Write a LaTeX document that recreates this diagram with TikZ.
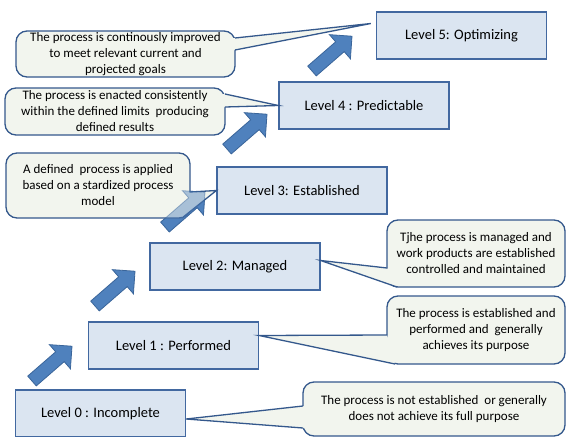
\documentclass[tikz,border=0pt]{standalone}
\usepackage{fontspec}
\setmainfont{Carlito}
\usetikzlibrary{calc}
\definecolor{levelfill}{RGB}{219,229,241}
\definecolor{levelline}{RGB}{66,104,160}
\definecolor{notefill}{RGB}{242,245,238}
\definecolor{noteline}{RGB}{52,88,140}
\definecolor{arrowfill}{RGB}{79,129,189}
\definecolor{arrowline}{RGB}{58,101,154}
\newcommand\calloutptr[4]{%
  \fill[notefill] #1 -- #2 -- #3 -- #4 -- cycle;
  \draw[pointer] #1 -- #2 -- #3;}

\begin{document}
\begin{tikzpicture}[x=1pt, y=-1pt,
    level/.style={draw=levelline, fill=levelfill, line width=1.3pt, minimum width=170pt, minimum height=47pt, inner sep=0pt, font=\fontsize{14.5}{16}\selectfont},
    note/.style={draw=noteline, fill=notefill, line width=1.3pt, rounded corners=11pt, align=center, inner sep=0pt, font=\fontsize{13}{16}\selectfont},
    pointer/.style={draw=noteline, line width=1.3pt, line join=miter},
    climb/.pic={\filldraw[draw=arrowline, fill=arrowfill, line width=0.8pt] (0,-6.5) -- (37,-6.5) -- (37,-16) -- (53,0) -- (37,16) -- (37,6.5) -- (0,6.5) -- cycle;}]
        \useasboundingbox (0,0) rectangle (566,437);

        \foreach \x/\y in {32/381, 95/306, 165/227, 227/149, 312/71} {
            \pic[rotate=41] at (\x,\y) {climb};
        }

        \node[level] (l0) at (100.5,413.5) {Level 0 : Incomplete};
        \node[level] (l1) at (173.5,345.5) {Level 1 : Performed};
        \node[level] (l2) at (235,266.5) {Level 2: Managed};
        \node[level] (l3) at (302,190.5) {Level 3: Established};
        \node[level] (l4) at (364,105.5) {Level 4 : Predictable};
        \node[level] (l5) at (461.5,35.5) {Level 5: Optimizing};

        \node[note, minimum width=219pt, minimum height=46pt] (n5) at (125.5,54) {The process is continously improved\\to meet relevant current and\\projected goals};
        \node[note, minimum width=220pt, minimum height=47pt] (n4) at (115,111.5) {The process is enacted consistently\\within the defined limits~ producing\\defined results};
        \node[note, minimum width=184pt, minimum height=65pt] (n3) at (98,185.5) {A defined~ process is applied\\based on a stardized process\\model};
        \node[note, minimum width=178pt, minimum height=67pt] (n2) at (476,253.5) {Tjhe process is managed and\\work products are established\\controlled and maintained};
        \node[note, minimum width=178pt, minimum height=68pt] (n1) at (476,330) {The process is established and\\performed and~ generally\\achieves its purpose};
        \node[note, minimum width=262pt, minimum height=54pt] (n0) at (434,409) {The process is not established~ or generally\\does not achieve its full purpose};

        \calloutptr{(235,38)}{([shift={(-5,-12)}]l5.west)}{(235,50)}{(230,50) -- (230,38)}
        \calloutptr{(225,94)}{(l4.west)}{(225,107)}{(220,107) -- (220,94)}
        \calloutptr{(190,192)}{(l3.west)}{(182,218)}{(184,200)}
        \calloutptr{(387,268)}{([shift={(0,-6)}]l2.east)}{(397,287)}{(392,276)}
        \calloutptr{(387,335)}{([shift={(0,-10)}]l1.east)}{(395,364)}{(391,348)}
        \calloutptr{(303,406)}{([shift={(0,5.5)}]l0.east)}{(303,428)}{(308,428) -- (308,406)}

        \pic[rotate=41, opacity=0.45] at (165,227) {climb};

    \end{tikzpicture}
\end{document}
